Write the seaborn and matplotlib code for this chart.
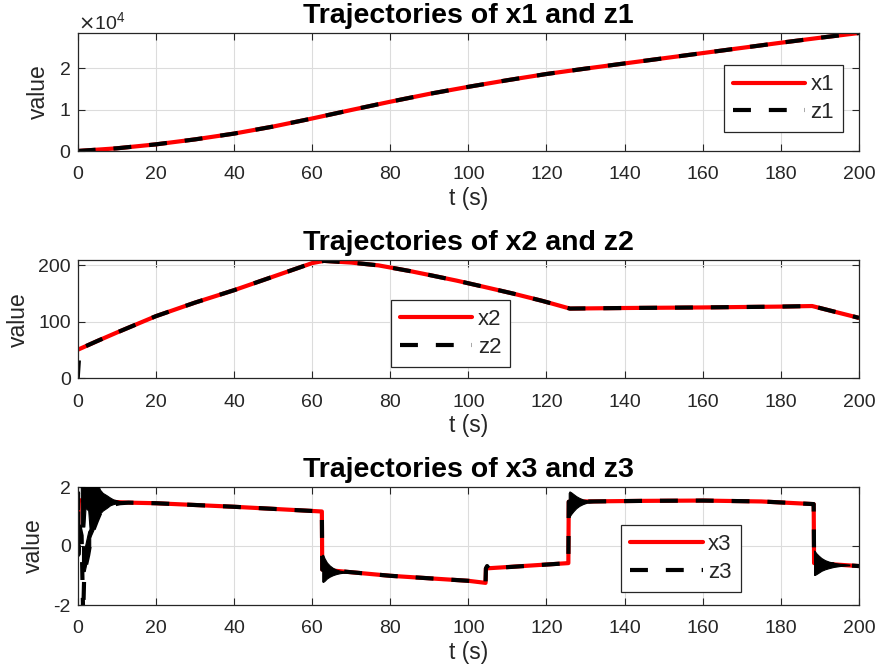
import numpy as np
import pandas as pd
import matplotlib
matplotlib.use("Agg")
import matplotlib.pyplot as plt
import seaborn as sns

# ---------------- data ----------------
tick_t = [0, 20, 40, 60, 80, 100, 120, 140, 160, 180, 200]

# subplot 1
x1_t = [0, 10, 20, 30, 40, 50, 60, 70, 80, 90, 100, 110, 120, 130, 140, 150,
        160, 170, 180, 190, 200]
x1_v = [0, 650, 1600, 2800, 4200, 5900, 7850, 9900, 11900, 13800, 15500,
        17100, 18600, 19900, 21150, 22400, 23650, 24900, 26150, 27350, 28500]
z1_t = list(x1_t)
z1_v = list(x1_v)

# subplot 2
x2_t = [0, 5, 10, 20, 30, 40, 50, 60, 63, 70, 77, 85, 90, 97, 104, 111.5,
        119, 126, 140, 160, 180, 188, 200]
x2_v = [50.5, 66, 81, 110, 134, 156, 180, 204, 208, 205, 200, 190, 183, 173,
        162, 150, 137, 123.5, 124.5, 125.5, 127, 128, 107]
z2_head_t = [0, 0.3, 0.8]
z2_head_v = [0, 32, 53]

# subplot 3
x3_t = [0, 0.3, 13, 20, 40, 62.5, 62.6, 80, 100, 104.4, 104.5, 125.6, 125.7,
        130, 145, 160, 175, 188.4, 188.5, 200]
x3_v = [0.0, 1.55, 1.47, 1.45, 1.33, 1.17, -0.80, -1.01, -1.18, -1.25, -0.76,
        -0.58, 1.50, 1.51, 1.53, 1.54, 1.51, 1.42, -0.58, -0.68]

z3_t = [0.0, 0.08, 0.16, 0.5, 1.0, 1.4, 1.7, 2.2, 2.7, 3.2, 4.0, 4.9, 5.7,
        7.0, 8.3, 10.8, 13, 20, 40, 62.5, 62.6, 66, 80, 100, 104.4, 104.5,
        104.8, 105.2, 125.6, 125.7, 145, 160, 175, 188.4, 188.5, 200]
z3_v = [0.0, 1.8, -0.3, 0.66, 0.35, -2.4, -0.8, -0.6, -0.3, 0.09, 0.54, 0.85,
        1.1, 1.27, 1.38, 1.45, 1.47, 1.45, 1.33, 1.17, -0.80, -0.84, -1.01,
        -1.18, -1.25, -0.76, -0.68, -0.76, -0.58, 1.50, 1.53, 1.54, 1.51,
        1.42, -0.58, -0.68]

# chattering envelopes of z3 (upper / lower bounds of the dense oscillation)
burst0_t = [0.8, 1.7, 2.0, 2.7, 3.2, 4.0, 4.9, 5.7, 6.4, 7.4, 8.3, 9.1, 10.0,
            11.3, 12.5]
burst0_hi = [2.3, 2.3, 2.3, 2.3, 2.3, 2.3, 2.2, 1.91, 1.8, 1.72, 1.64, 1.58,
             1.55, 1.5, 1.48]
burst0_lo = [0.66, 0.66, 1.3, 1.2, 0.3, 0.54, 0.85, 1.1, 1.2, 1.29, 1.38,
             1.42, 1.45, 1.47, 1.47]
arm_t = [1.1, 1.8, 2.2, 2.7, 3.2]
arm_hi = [0.0, -0.05, 0.2, 0.5, 0.6]
arm_lo = [-0.85, -0.85, -0.6, -0.3, 0.0]

burst1_t = [62.6, 62.8, 63.2, 63.8, 64.5, 65.3, 66.2, 67.2, 68.5, 70]
burst1_hi = [-0.3, -0.3, -0.42, -0.56, -0.66, -0.74, -0.8, -0.84, -0.87,
             -0.885]
burst1_lo = [-1.2, -1.22, -1.18, -1.1, -1.04, -0.99, -0.95, -0.92, -0.9,
             -0.895]

burst2_t = [125.7, 125.9, 126.3, 126.9, 127.6, 128.4, 129.3, 130.4, 131.7,
            133.5]
burst2_hi = [1.8, 1.85, 1.82, 1.76, 1.69, 1.63, 1.58, 1.55, 1.53, 1.515]
burst2_lo = [1.0, 1.0, 1.08, 1.18, 1.28, 1.36, 1.42, 1.47, 1.49, 1.505]

burst3_t = [188.5, 188.7, 189.1, 189.7, 190.4, 191.3, 192.3, 193.5, 195.0,
            197.5]
burst3_hi = [-0.15, -0.18, -0.25, -0.33, -0.41, -0.48, -0.53, -0.57, -0.6,
             -0.63]
burst3_lo = [-0.98, -0.98, -0.95, -0.9, -0.84, -0.79, -0.75, -0.71, -0.68,
             -0.655]

titles = ["Trajectories of x1 and z1", "Trajectories of x2 and z2",
          "Trajectories of x3 and z3"]
x_labels = ["x1", "x2", "x3"]
z_labels = ["z1", "z2", "z3"]
y_limits = [(0, 28500), (0, 209), (-2, 2)]
y_ticks = [[0, 10000, 20000], [0, 100, 200], [-2, 0, 2]]

# ---------------- styling ----------------
sns.set_theme(style="ticks")
plt.rcParams["font.family"] = ["Liberation Sans", "DejaVu Sans"]
plt.rcParams["axes.unicode_minus"] = False
plt.rcParams["lines.scale_dashes"] = True

GRAY = "#262626"
RED = "#ff0000"
DASH = (0, (4.3, 4.3))

fig = plt.figure(figsize=(8.8, 6.7), dpi=100)
left, width, height = 77.7 / 880, 781.3 / 880, 118.0 / 670
bottoms = [1 - 151.0 / 670, 1 - 378.3 / 670, 1 - 605.0 / 670]
axes = [fig.add_axes([left, b, width, height]) for b in bottoms]

series = [
    (x1_t, x1_v, z1_t, z1_v),
    (x2_t, x2_v, z2_head_t + x2_t[1:], z2_head_v + x2_v[1:]),
    (x3_t, x3_v, z3_t, z3_v),
]
legend_anchor = [(0.827, 0.725), (0.401, 0.662), (0.696, 0.676)]

for i, ax in enumerate(axes):
    xt, xv, zt, zv = series[i]
    dfx = pd.DataFrame({"t": xt, "v": xv})
    dfz = pd.DataFrame({"t": zt, "v": zv})
    sns.lineplot(data=dfx, x="t", y="v", ax=ax, color=RED, lw=3,
                 sort=False, estimator=None, label=x_labels[i])
    sns.lineplot(data=dfz, x="t", y="v", ax=ax, color="black", lw=3,
                 sort=False, estimator=None, label=z_labels[i])
    zline = ax.lines[-1]
    zline.set_linestyle(DASH)
    zline.set_dash_capstyle("butt")
    ax.set_xlim(0, 200)
    ax.set_ylim(*y_limits[i])
    ax.set_xticks(tick_t)
    ax.set_yticks(y_ticks[i])
    ax.grid(True, color="#dcdcdc", lw=0.8)
    ax.set_axisbelow(True)
    for s in ax.spines.values():
        s.set_color(GRAY)
        s.set_linewidth(0.9)
        s.set_visible(True)
    ax.tick_params(direction="in", top=True, right=True, length=5,
                   width=0.8, color=GRAY, labelsize=14, labelcolor=GRAY)
    ax.tick_params(axis="x", pad=11)
    ax.tick_params(axis="y", pad=5)
    ax.set_xlabel("t (s)", fontsize=16.5, color=GRAY, labelpad=2.5)
    ax.set_ylabel("value", fontsize=16.5, color=GRAY, labelpad=6)
    ax.set_title(titles[i], fontsize=20.5, fontweight="bold", color="black",
                 pad=7.5)
    leg = ax.legend(loc="upper left", bbox_to_anchor=legend_anchor[i],
                    fontsize=16, frameon=True, fancybox=False,
                    edgecolor=GRAY, framealpha=1, handlelength=3.25,
                    handletextpad=0.25, borderpad=0.4, labelspacing=0.3,
                    borderaxespad=0)
    leg.get_frame().set_linewidth(0.9)

# dense chattering of z3 drawn as its envelope
ax3 = axes[2]
for bt, blo, bhi in [(burst0_t, burst0_lo, burst0_hi), (arm_t, arm_lo, arm_hi),
                     (burst1_t, burst1_lo, burst1_hi),
                     (burst2_t, burst2_lo, burst2_hi),
                     (burst3_t, burst3_lo, burst3_hi)]:
    ax3.fill_between(bt, blo, bhi, color="black", lw=0.8, edgecolor="black",
                     zorder=3)

axes[0].ticklabel_format(axis="y", style="sci", scilimits=(0, 0),
                         useMathText=True)
axes[0].yaxis.get_offset_text().set_fontsize(14)
axes[0].yaxis.get_offset_text().set_color(GRAY)

fig.savefig("out.png", dpi=100)
